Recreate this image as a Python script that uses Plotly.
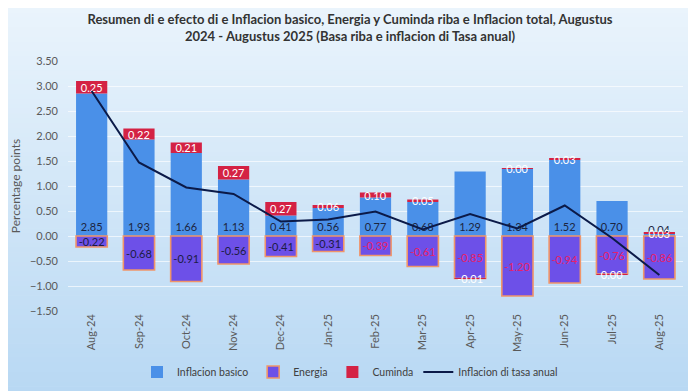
import plotly.graph_objects as go

months = ["Aug-24", "Sep-24", "Oct-24", "Nov-24", "Dec-24", "Jan-25", "Feb-25",
          "Mar-25", "Apr-25", "May-25", "Jun-25", "Jul-25", "Aug-25"]
basico = [2.85, 1.93, 1.66, 1.13, 0.41, 0.56, 0.77, 0.68, 1.29, 1.34, 1.52, 0.70, 0.04]
energia = [-0.22, -0.68, -0.91, -0.56, -0.41, -0.31, -0.39, -0.61, -0.85, -1.20, -0.94, -0.76, -0.86]
cuminda = [0.25, 0.22, 0.21, 0.27, 0.27, 0.06, 0.10, 0.05, -0.01, 0.003, 0.03, -0.003, 0.03]
tasa_anual = [2.90, 1.47, 0.97, 0.84, 0.29, 0.33, 0.49, 0.13, 0.44, 0.15, 0.61, -0.04, -0.78]

title_text = ("Resumen di e efecto di e Inflacion basico, Energia y Cuminda riba e Inflacion total, Augustus"
              "<br>2024 - Augustus 2025 (Basa riba e inflacion di Tasa anual)")


def fmt(v):
    return "0.00" if abs(v) < 0.005 else f"{v:.2f}"


FONT = "Lato"
energia_colors = ["#1c1c45"] * 6 + ["#e8206a"] * 7

fig = go.Figure()

fig.add_trace(go.Bar(
    name="Inflacion basico", x=months, y=basico,
    marker=dict(color="#4a90e8", line=dict(width=0)),
    text=[fmt(v) for v in basico], textposition="inside", insidetextanchor="start",
    textangle=0, constraintext="none",
    insidetextfont=dict(color="#1c2540", size=11, family=FONT),
    cliponaxis=False,
))
fig.add_trace(go.Bar(
    name="Energia", x=months, y=energia,
    marker=dict(color="#6d50e8", line=dict(color="#f0956a", width=1.6)),
    text=[fmt(v) for v in energia], textposition="inside", insidetextanchor="middle",
    textangle=0, constraintext="none",
    insidetextfont=dict(color=energia_colors, size=11, family=FONT),
    cliponaxis=False,
))
fig.add_trace(go.Bar(
    name="Cuminda", x=months, y=cuminda,
    marker=dict(color="#d42244", line=dict(width=0)),
    text=[fmt(v) for v in cuminda], textposition="inside", insidetextanchor="middle",
    textangle=0, constraintext="none",
    insidetextfont=dict(color="white", size=11, family=FONT),
    cliponaxis=False,
))
fig.add_trace(go.Scatter(
    name="Inflacion di tasa anual", x=months, y=tasa_anual, mode="lines",
    line=dict(color="#0b1a48", width=2),
))

# figure is placed 8px in from the page's top-left corner by the page body margin
W, H = 688, 383
ml, mr, mt, mb = 60, 13, 53, 80
pw, ph = W - ml - mr, H - mt - mb
top_c = (234, 244, 252)
bot_c = (184, 216, 243)
n = 80
shapes = []
for i in range(n):
    py0 = H * i / n
    py1 = H * (i + 1) / n + 0.6
    t = (i + 0.5) / n
    c = tuple(round(top_c[k] + (bot_c[k] - top_c[k]) * t) for k in range(3))
    shapes.append(dict(type="rect", xref="paper", yref="paper",
                       x0=-ml / pw - 0.01, x1=1 + mr / pw + 0.01,
                       y0=(H - mb - py1) / ph, y1=(H - mb - py0) / ph,
                       fillcolor=f"rgb{c}", line=dict(width=0), layer="below"))

fig.update_layout(
    width=W, height=H,
    margin=dict(l=ml, r=mr, t=mt, b=mb, autoexpand=False),
    barmode="relative", bargap=0.34,
    paper_bgcolor="#dcecf9", plot_bgcolor="rgba(0,0,0,0)",
    shapes=shapes,
    font=dict(family=FONT, size=11, color="#595959"),
    title=dict(text=title_text, x=(350 - 8) / W, xanchor="center", y=1 - 16 / H, yanchor="top",
               yref="container", xref="container",
               font=dict(family=FONT, size=13, color="#333333", weight="bold")),
    showlegend=True,
    legend=dict(orientation="h", x=(350 - 8 - ml) / pw, xanchor="center", y=-(364 - (H - mb)) / ph,
                yanchor="middle", font=dict(size=10.5, color="#404040", family=FONT),
                bgcolor="rgba(0,0,0,0)", traceorder="normal"),
    xaxis=dict(tickangle=-90, tickfont=dict(size=11, color="#595959"), showgrid=False,
               showline=False, ticks="", automargin=False),
    yaxis=dict(range=[-1.5, 3.5], dtick=0.5, tickformat=".2f", showgrid=True,
               gridcolor="rgba(255,255,255,0.65)", gridwidth=1, zeroline=False,
               tickfont=dict(size=11, color="#595959"), ticklabelstandoff=9, automargin=False,
               title=dict(text="Percentage points", font=dict(size=12, color="#595959"), standoff=6)),
)

fig.write_html("out.html")
